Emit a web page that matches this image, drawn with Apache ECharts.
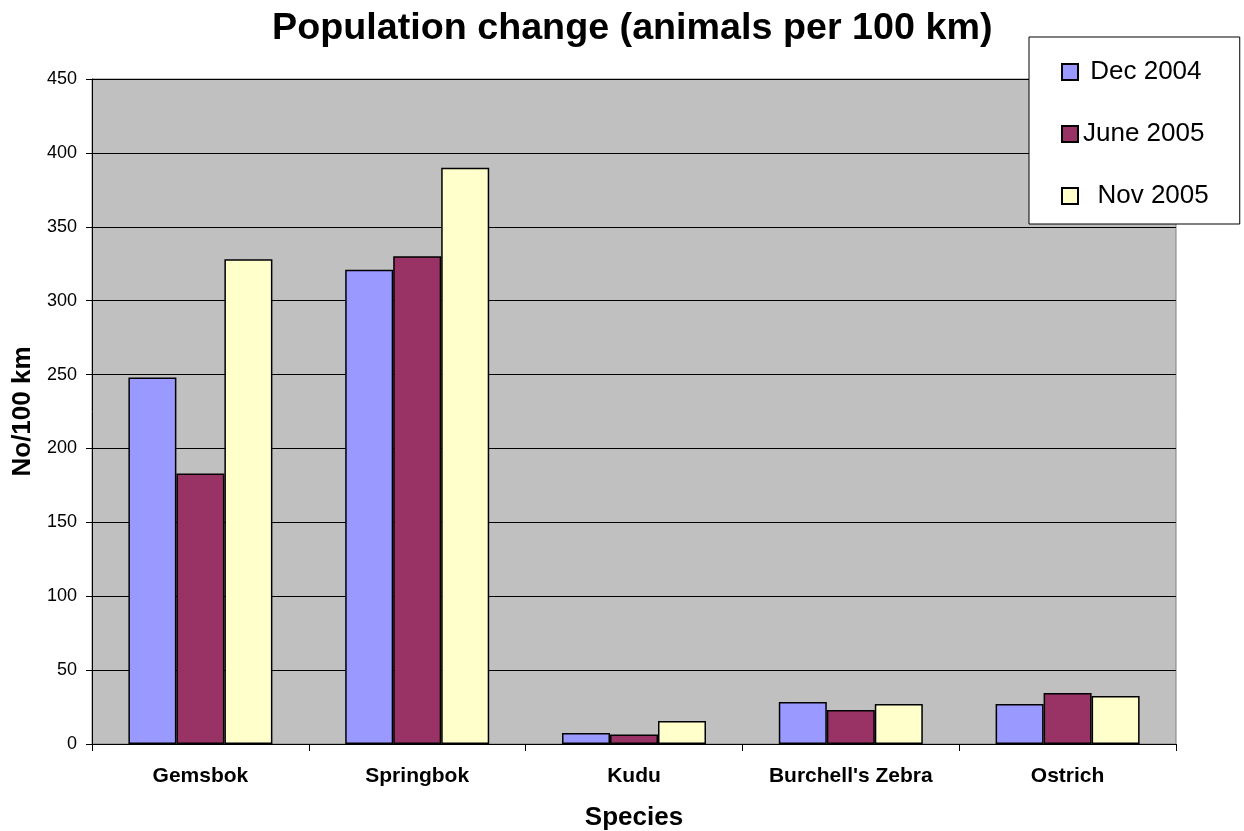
<!DOCTYPE html>
<html>
<head>
<meta charset="utf-8">
<title>Population change</title>
<script src="https://cdn.jsdelivr.net/npm/echarts@6/dist/echarts.min.js"></script>
<style>
  html, body { margin: 0; padding: 0; background: #ffffff; }
  #chart { width: 1244px; height: 831px; }
</style>
</head>
<body>
<div id="chart"></div>
<script>
// Survey counts per species, animals per 100 km of transect
const species = ['Gemsbok', 'Springbok', 'Kudu', "Burchell's Zebra", 'Ostrich'];
const dec2004 = [248, 321, 7.5, 28.5, 27];
const june2005 = [183, 330, 6.5, 23, 34.5];
const nov2005 = [328, 390, 15.5, 27, 32.5];
const seriesNames = [' Dec 2004', 'June 2005', '  Nov 2005'];
const yTicks = { min: 0, max: 450, interval: 50 };

const FONT = '"Liberation Sans", Arial, sans-serif';
const colors = ['#9999FF', '#993366', '#FFFFCC'];

function barSeries(name, data, color) {
  return {
    name: name,
    type: 'bar',
    data: data,
    barWidth: 48,
    barGap: '0%',
    itemStyle: { color: color, borderColor: '#000000', borderWidth: 1.5 }
  };
}

const chart = echarts.init(document.getElementById('chart'), null, { renderer: 'canvas' });
chart.setOption({
  backgroundColor: '#ffffff',
  animation: false,
  textStyle: { fontFamily: FONT },
  title: {
    text: 'Population change (animals per 100 km)',
    left: 272,
    top: 10,
    padding: 0,
    textStyle: { fontFamily: FONT, fontSize: 37.7, fontWeight: 'bold', color: '#000000' }
  },
  legend: {
    orient: 'vertical',
    left: 1029,
    top: 37,
    padding: [22, 31, 15, 32],
    itemWidth: 16,
    itemHeight: 16,
    itemGap: 36,
    icon: 'rect',
    backgroundColor: '#ffffff',
    borderColor: '#000000',
    borderWidth: 1,
    textStyle: { fontFamily: FONT, fontSize: 26, color: '#000000', lineHeight: 26 },
    data: seriesNames
  },
  grid: {
    left: 92,
    right: 68,
    top: 79,
    bottom: 87,
    outerBoundsMode: 'none',
    containLabel: false,
    show: true,
    backgroundColor: '#C0C0C0',
    borderColor: '#808080',
    borderWidth: 1
  },
  xAxis: {
    type: 'category',
    data: species,
    name: 'Species',
    nameLocation: 'middle',
    nameGap: 60.5,
    nameTextStyle: { fontFamily: FONT, fontSize: 26, fontWeight: 'bold', color: '#000000' },
    axisLine: { lineStyle: { color: '#000000', width: 1 } },
    axisTick: { show: true, length: 7, alignWithLabel: false, lineStyle: { color: '#000000' } },
    axisLabel: { margin: 22, fontFamily: FONT, fontSize: 21, fontWeight: 'bold', color: '#000000' },
    splitLine: { show: false }
  },
  yAxis: {
    type: 'value',
    min: yTicks.min,
    max: yTicks.max,
    interval: yTicks.interval,
    name: 'No/100 km',
    nameLocation: 'middle',
    nameGap: 56,
    nameTextStyle: { fontFamily: FONT, fontSize: 26, fontWeight: 'bold', color: '#000000' },
    axisLine: { show: true, lineStyle: { color: '#000000', width: 1 } },
    axisTick: { show: true, length: 6, lineStyle: { color: '#000000' } },
    axisLabel: { margin: 15, fontFamily: FONT, fontSize: 18, color: '#000000' },
    splitLine: { show: true, lineStyle: { color: '#000000', width: 1 } }
  },
  series: [
    barSeries(seriesNames[0], dec2004, colors[0]),
    barSeries(seriesNames[1], june2005, colors[1]),
    barSeries(seriesNames[2], nov2005, colors[2])
  ]
});
</script>
</body>
</html>
